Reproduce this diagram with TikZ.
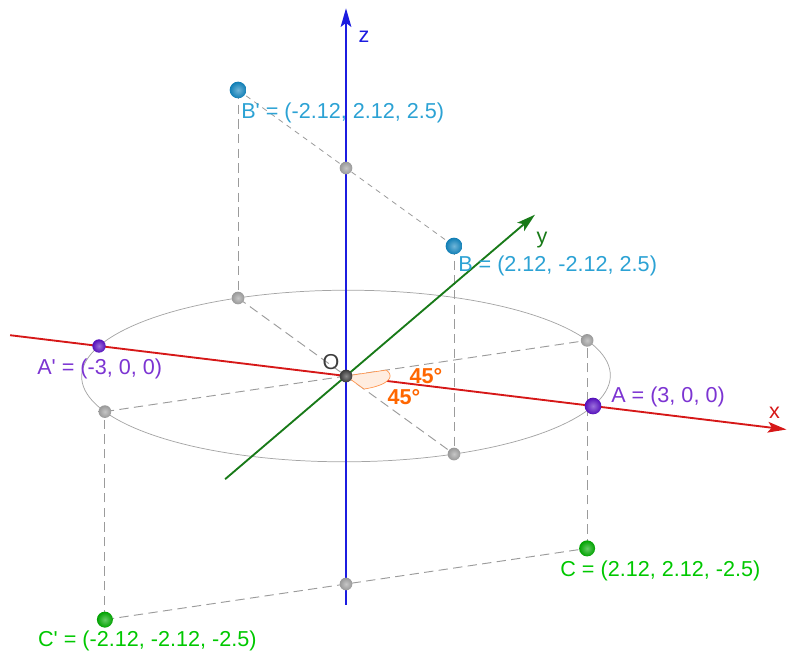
\documentclass[tikz,border=0pt]{standalone}
\usepackage{fontspec}
\setmainfont{Liberation Sans}
\usetikzlibrary{arrows.meta,positioning}
\definecolor{AxisRed}{RGB}{214,24,24}
\definecolor{AxisBlue}{RGB}{28,28,224}
\definecolor{AxisGreen}{RGB}{24,122,24}
\definecolor{PointPurple}{RGB}{88,16,196}
\definecolor{LabelPurple}{RGB}{124,52,210}
\definecolor{PointTeal}{RGB}{16,132,190}
\definecolor{LabelTeal}{RGB}{44,162,212}
\definecolor{PointGreen}{RGB}{0,170,0}
\definecolor{LabelGreen}{RGB}{0,200,0}
\definecolor{AngleOrange}{RGB}{255,102,0}
\definecolor{GuideGray}{RGB}{155,155,155}
\definecolor{PointGray}{RGB}{160,160,160}
\definecolor{OriginDark}{RGB}{60,60,60}
\tikzset{
  guide/.style={GuideGray,dash pattern=on 7pt off 4pt,line width=0.7pt},
  ballpt/.style={circle,inner sep=0pt,minimum size=#1},
  soft/.style={shading=radial,inner color=#1!60!white,outer color=#1!95!black},
  graypt/.style={ballpt=9.5pt,soft=PointGray},
  axis/.style={line width=1.4pt,-{Stealth[length=14pt,width=8pt,inset=3pt]}},
  coordlabel/.style={anchor=west,inner sep=0pt}
}

\begin{document}
\begin{tikzpicture}[x={(61.75pt,-7.5pt)},y={(23.55pt,20.1pt)},z={(0pt,62.4pt)},
    font=\fontsize{16.2}{19}\selectfont]
  \useasboundingbox (-259.5pt,-206.25pt) rectangle (330.75pt,282pt);
  \coordinate (xs) at (-4.08,0,0);
  \coordinate (xe) at (5.35,0,0);
  \coordinate (ys) at (0,-3.85,0);
  \coordinate (ye) at (0,6.02,0);
  \coordinate (zs) at (0,0,-2.75);
  \coordinate (ze) at (0,0,4.42);
  \draw[GuideGray!90,line width=0.55pt] plot[domain=0:360,samples=145]
    ({3*cos(\x)},{3*sin(\x)},0);
  \coordinate (g1) at (-2.12,2.12,0);
  \coordinate (g2) at (2.12,2.12,0);
  \coordinate (g3) at (2.12,-2.12,0);
  \coordinate (g4) at (-2.12,-2.12,0);
  \coordinate (gt) at (0,0,2.5);
  \coordinate (gb) at (0,0,-2.5);
  \coordinate (A) at (3,0,0);
  \coordinate (Ap) at (-3,0,0);
  \coordinate (B) at (2.12,-2.12,2.5);
  \coordinate (Bp) at (-2.12,2.12,2.5);
  \coordinate (C) at (2.12,2.12,-2.5);
  \coordinate (Cp) at (-2.12,-2.12,-2.5);
  \draw[guide,dash pattern=on 4pt off 3.5pt,line width=0.6pt] (Bp) -- (gt) -- (B);
  \draw[guide] (Cp) -- (gb) -- (C);
  \draw[guide] (Bp) -- (g1);
  \draw[guide] (B) -- (g3);
  \draw[guide] (C) -- (g2);
  \draw[guide] (Cp) -- (g4);
  \draw[guide] (g1) -- (g3);
  \draw[guide] (g4) -- (g2);
  \draw[axis,AxisRed] (xs) -- (xe);
  \draw[axis,AxisGreen] (ys) -- (ye);
  \draw[axis,AxisBlue] (zs) -- (ze);
  \filldraw[draw=AngleOrange!70,fill=AngleOrange!12,line width=0.5pt]
    (0,0,0) -- plot[domain=-45:45,samples=31] ({0.5*cos(\x)},{0.5*sin(\x)},0) -- cycle;
  \node[ballpt=9.5pt,soft=OriginDark] (O) at (0,0,0) {};
  \node[graypt] (g1pt) at (g1) {};
  \node[graypt] (g2pt) at (g2) {};
  \node[graypt] (g3pt) at (g3) {};
  \node[graypt] (g4pt) at (g4) {};
  \node[graypt] (gtpt) at (gt) {};
  \node[graypt] (gbpt) at (gb) {};
  \node[ballpt=12.5pt,soft=PointPurple] (Apt) at (A) {};
  \node[ballpt=10pt,soft=PointPurple] (Appt) at (Ap) {};
  \node[ballpt=12.5pt,soft=PointTeal] (Bpt) at (B) {};
  \node[ballpt=12.5pt,soft=PointTeal] (Bppt) at (Bp) {};
  \node[ballpt=12pt,soft=PointGreen] (Cpt) at (C) {};
  \node[ballpt=12pt,soft=PointGreen] (Cppt) at (Cp) {};
  \node[coordlabel,LabelPurple] (Alabel) at ([shift={(13.5pt,6.75pt)}]A) {A = (3, 0, 0)};
  \node[coordlabel,LabelPurple] (Aplabel) at ([shift={(-46.5pt,-17.25pt)}]Ap) {A\textquotesingle{} = (-3, 0, 0)};
  \node[coordlabel,LabelTeal] (Blabel) at ([shift={(3pt,-15pt)}]B) {B = (2.12, -2.12, 2.5)};
  \node[coordlabel,LabelTeal] (Bplabel) at ([shift={(2.25pt,-17.25pt)}]Bp) {B\textquotesingle{} = (-2.12, 2.12, 2.5)};
  \node[coordlabel,LabelGreen] (Clabel) at ([shift={(-20.25pt,-17.25pt)}]C) {C = (2.12, 2.12, -2.5)};
  \node[coordlabel,LabelGreen] (Cplabel) at ([shift={(-50.25pt,-15.75pt)}]Cp) {C\textquotesingle{} = (-2.12, -2.12, -2.5)};
  \node[coordlabel,AngleOrange,font=\fontsize{16.2}{19}\bfseries] (angup) at ([shift={(47.5pt,0pt)}]O.center) {45°};
  \node[coordlabel,AngleOrange,font=\fontsize{16.2}{19}\bfseries] (angdown) at ([shift={(31pt,-15.75pt)}]O.center) {45°};
  \node[OriginDark] (Olabel) at ([shift={(-11.25pt,10.5pt)}]O.center) {O};
  \node[AxisBlue] (zlabel) at ([shift={(13.5pt,-21.75pt)}]ze) {z};
  \node[AxisRed] (xlabel) at ([shift={(-9pt,12.75pt)}]xe) {x};
  \node[AxisGreen] (ylabel) at ([shift={(5.25pt,-18.75pt)}]ye) {y};
\end{tikzpicture}
\end{document}
